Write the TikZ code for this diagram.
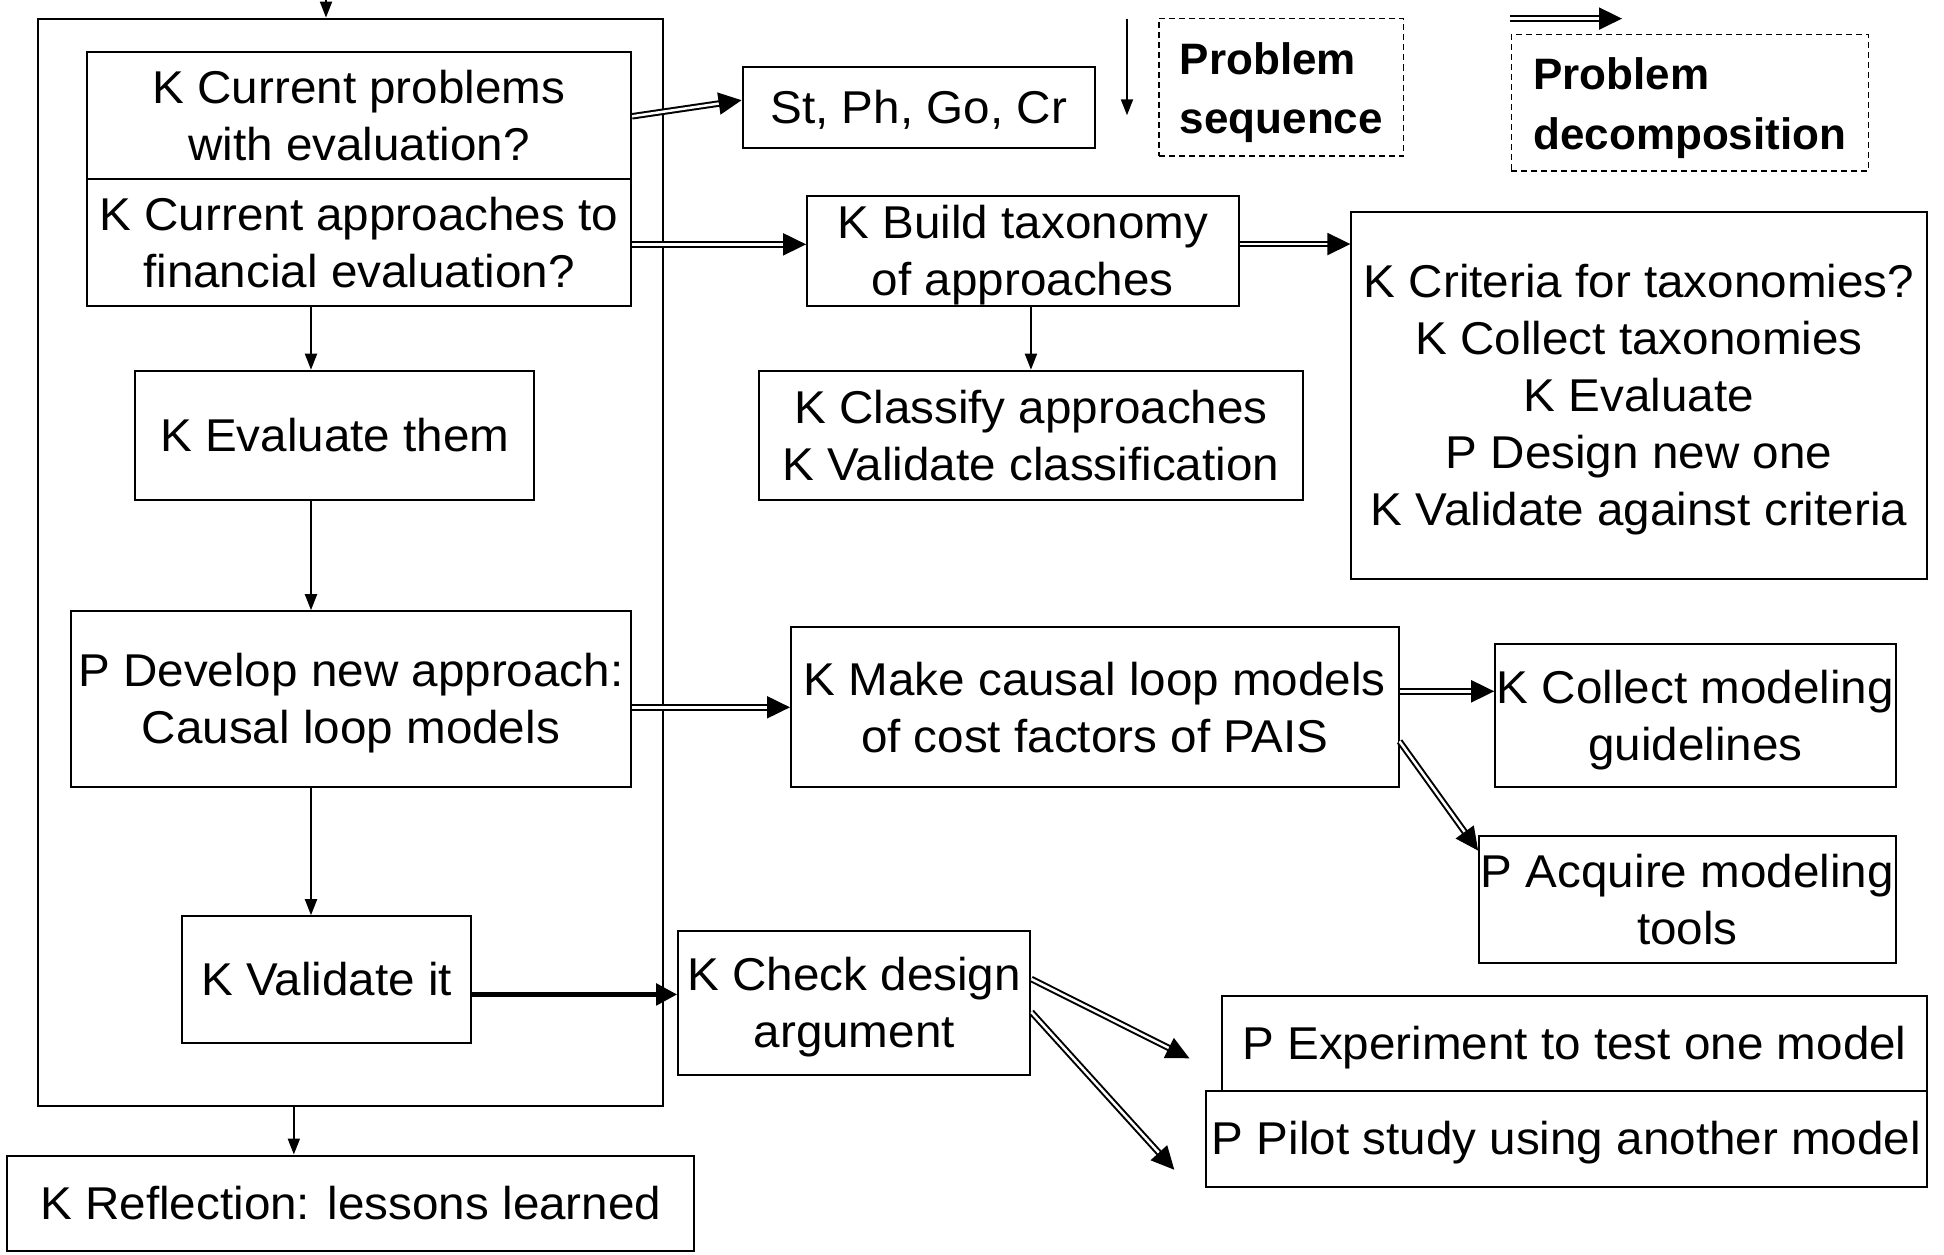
\documentclass[tikz,border=0pt]{standalone}
\usepackage{fontspec}
\setmainfont{Liberation Sans}[FakeStretch=1.035]
\newfontfamily\legendfont{Liberation Sans}
\usetikzlibrary{arrows.meta, calc}
% line box of one text line: 42pt above, 9pt below the baseline
\newcommand\lb{\rule[-9pt]{0pt}{51pt}}

\begin{document}
\begin{tikzpicture}[x=1pt, y=-1pt,
    box/.style={draw, line width=2pt, inner sep=0pt, align=center, font=\fontsize{46}{57}\selectfont},
    legbox/.style={draw, line width=1.5pt, dash pattern=on 6pt off 4pt, inner sep=0pt, align=left,
        font=\legendfont\bfseries\fontsize{44}{59.5}\selectfont},
    seqarrow/.style={line width=2pt, -{Triangle[length=16pt, width=12pt]}},
    decarrow/.style={line width=2pt, double, double distance=2.5pt, -{Triangle[length=23pt, width=22pt]}},
    strongarrow/.style={line width=5pt, -{Triangle[length=21pt, width=21pt]}}]
    \useasboundingbox (0,0) rectangle (1944,1255);

    % problem sequence (left column)
    \node[box, minimum width=624.9pt, minimum height=1087.3pt] (outer) at (350.85,562.25) {};
    \node[box, minimum width=544.3pt, minimum height=126.4pt] (curprob) at (358.95,115.3) {\lb K Current problems\\with evaluation?\lb};
    \node[box, minimum width=544.3pt, minimum height=127.7pt] (curappr) at (358.95,242.35) {\lb K Current approaches to\\financial evaluation?\lb};
    \node[box, minimum width=399.3pt, minimum height=128.9pt] (evalthem) at (334.75,435.15) {\lb K Evaluate them\lb};
    \node[box, minimum width=560.4pt, minimum height=176.1pt] (develop) at (350.9,699.25) {\lb P Develop new approach:\\Causal loop models\lb};
    \node[box, minimum width=288.8pt, minimum height=126.5pt] (validate) at (326.7,979.45) {\lb K Validate it\lb};
    \node[box, minimum width=686.9pt, minimum height=95.5pt] (reflect) at (350.85,1203.25) {\lb K Reflection: lessons learned\lb};

    % decompositions
    \node[box, minimum width=352.2pt, minimum height=80.6pt] (stph) at (918.7,107.2) {\lb St, Ph, Go, Cr\lb};
    \node[box, minimum width=431.5pt, minimum height=110.3pt] (taxonomy) at (1022.85,251.05) {\lb K Build taxonomy\\of approaches\lb};
    \node[box, minimum width=544.3pt, minimum height=128.9pt] (classify) at (1030.95,435.15) {\lb K Classify approaches\\K Validate classification\lb};
    \node[box, minimum width=575.2pt, minimum height=367pt] (criteria) at (1639,395.5) {\lb K Criteria for taxonomies?\\K Collect taxonomies\\K Evaluate\\P Design new one\\K Validate against criteria\lb};
    \node[box, minimum width=607.5pt, minimum height=160pt] (causal) at (1094.75,707.3) {\lb K Make causal loop models\\of cost factors of PAIS\lb};
    \node[box, minimum width=400.5pt, minimum height=143.8pt] (guide) at (1695.45,715.4) {\lb K Collect modeling\\guidelines\lb};
    \node[box, minimum width=416.6pt, minimum height=127.7pt] (tools) at (1687.4,899.45) {\lb P Acquire modeling\\tools\lb};
    \node[box, minimum width=352.1pt, minimum height=143.8pt] (argument) at (854.25,1003) {\lb K Check design\\argument\lb};
    \node[box, minimum width=704.2pt, minimum height=95.4pt] (experiment) at (1574.5,1043.3) {\lb P Experiment to test one model\lb};
    \node[box, minimum width=720.3pt, minimum height=95.5pt] (pilot) at (1566.45,1138.75) {\lb P Pilot study using another model\lb};

    % legend
    \node[legbox, minimum width=244.3pt, minimum height=137.6pt] (legseq) at (1281.35,87.4) {\lb Problem\\sequence\lb};
    \node[legbox, minimum width=357.1pt, minimum height=136.4pt] (legdec) at (1689.85,102.9) {\lb Problem\\decomposition\lb};
    \coordinate (seqtop) at (1127,18.6);
    \coordinate (seqend) at (1127,115.3);
    \coordinate (dectop) at (1510,18.6);
    \coordinate (decend) at (1622,18.6);
    \draw[seqarrow] (seqtop) -- (seqend);
    \draw[decarrow] (dectop) -- (decend);

    % sequence arrows
    \coordinate (entry) at (326,0);
    \coordinate (spine) at (311,0);
    \draw[seqarrow] (entry) -- (entry |- outer.north);
    \draw[seqarrow] (curappr.south -| spine) -- (evalthem.north -| spine);
    \draw[seqarrow] (evalthem.south -| spine) -- (develop.north -| spine);
    \draw[seqarrow] (develop.south -| spine) -- (validate.north -| spine);
    \draw[seqarrow] ([xshift=-57pt]outer.south) -- ([xshift=-57pt]outer.south |- reflect.north);
    \draw[seqarrow] (taxonomy.south -| classify.north) -- (classify.north);
    \draw[strongarrow] ([yshift=-15pt]validate.east) -- ([yshift=-15pt]validate.east -| argument.west);

    % decomposition arrows
    \draw[decarrow] ([yshift=-1pt]curprob.east) -- ([yshift=7pt]stph.west);
    \draw[decarrow] ([yshift=-2pt]curappr.east) -- ([yshift=-2pt]curappr.east -| taxonomy.west);
    \draw[decarrow] ([yshift=7pt]taxonomy.east) -- ([yshift=7pt]taxonomy.east -| criteria.west);
    \draw[decarrow] (develop.east |- causal.west) -- (causal.west);
    \draw[decarrow] ([yshift=16pt]causal.east) -- ([yshift=16pt]causal.east -| guide.west);
    \draw[decarrow] ([yshift=-34pt]causal.east) -- ([yshift=-16pt]tools.north west);
    \draw[decarrow] ([yshift=24pt]argument.east) -- ([xshift=-32pt,yshift=-15pt]experiment.west);
    \draw[decarrow] ([yshift=-9pt]argument.east) -- ([xshift=-31pt,yshift=-31pt]pilot.west);
\end{tikzpicture}
\end{document}
